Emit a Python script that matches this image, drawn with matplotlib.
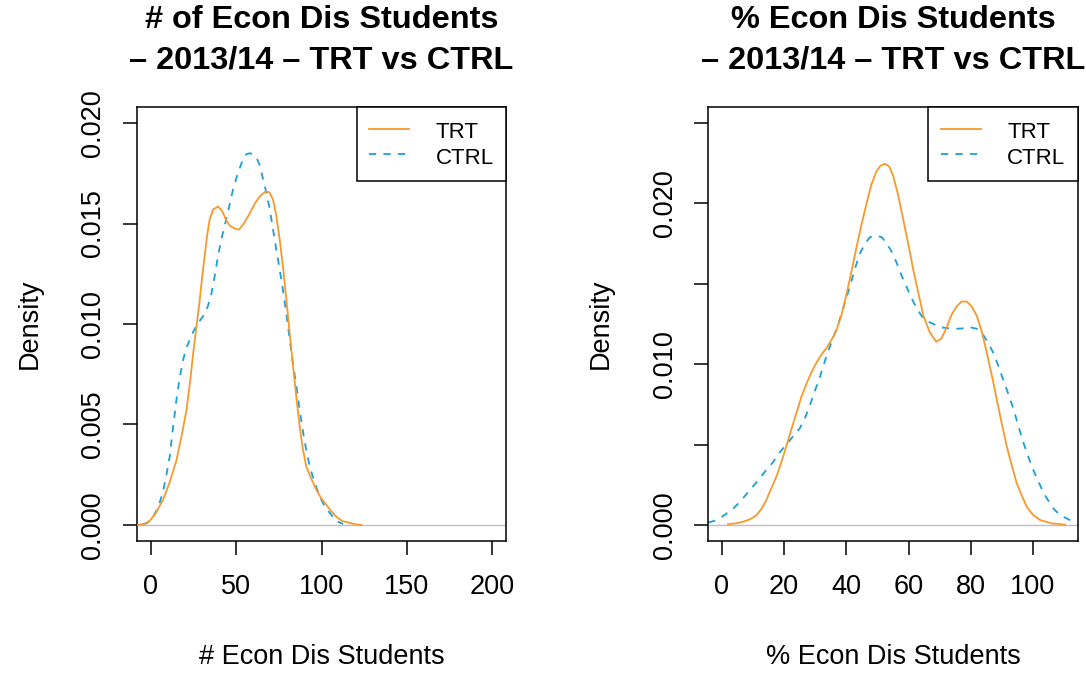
import matplotlib
matplotlib.use("Agg")
import matplotlib.pyplot as plt

plt.rcParams['font.family'] = ['Liberation Sans', 'DejaVu Sans']

# datos: numero de estudiantes
num_trt_x = [-8, -4, -0.6, 3, 7.2, 11, 15, 18, 20.9, 23, 24.8, 26.8, 28.7, 30.2, 31.6, 33, 34.5, 36.5,
             39.4, 42, 44, 46.2, 49, 51.7, 54.5, 57.9, 61, 63.8, 67.3, 69.5, 71.6, 73.5, 75.5, 77.5,
             79.4, 81.4, 83.3, 85.3, 87.2, 89, 91.1, 94, 97, 100, 102.8, 105.5, 108.7, 112, 116.5, 120, 123.3]
num_trt_y = [0.0, 0.00004, 0.0002, 0.0006, 0.00125, 0.0021, 0.0032, 0.0044, 0.0057, 0.0071, 0.0085,
             0.0099, 0.0112, 0.0124, 0.0134, 0.0144, 0.0152, 0.0157, 0.01585, 0.0156, 0.0152, 0.0149,
             0.01475, 0.0147, 0.0150, 0.0155, 0.0160, 0.01635, 0.0166, 0.01655, 0.0162, 0.0154, 0.0142,
             0.0128, 0.0112, 0.0095, 0.0079, 0.0063, 0.0049, 0.0038, 0.0029, 0.0023, 0.00174, 0.0013,
             0.001, 0.0007, 0.0004, 0.0002, 0.0001, 0.00003, 0.0]

num_ctrl_x = [-5, -2, 1.4, 4.5, 7.2, 9.2, 11.1, 13, 15, 16.9, 18.9, 20.8, 22.8, 24.8, 26.7, 29, 31.6,
              33.5, 35.5, 37.5, 39.4, 41.3, 43.3, 45.8, 48.2, 51, 54, 56, 57.9, 59.9, 61.8, 63.8, 65.8,
              67.8, 69.7, 71.6, 73.5, 75.5, 77.4, 79.4, 81.4, 83.3, 85.3, 87.2, 89.2, 91.1, 93.1, 96,
              99, 102, 104.8, 108.5, 112.6]
num_ctrl_y = [0.00002, 0.0001, 0.0004, 0.0009, 0.00166, 0.0025, 0.0034, 0.0048, 0.0062, 0.0073, 0.0082,
              0.0088, 0.0092, 0.0096, 0.0099, 0.0102, 0.0105, 0.0109, 0.0115, 0.0124, 0.0134, 0.0142,
              0.0149, 0.0158, 0.0167, 0.0175, 0.0182, 0.01845, 0.0185, 0.01845, 0.0183, 0.0179, 0.0172,
              0.0165, 0.0157, 0.0147, 0.0137, 0.0127, 0.0117, 0.0105, 0.0092, 0.0080, 0.0069, 0.0057,
              0.0046, 0.0037, 0.0029, 0.0021, 0.0014, 0.0009, 0.0006, 0.0002, 0.00005]

# datos: porcentaje de estudiantes
pct_trt_x = [1.9, 4.5, 6.8, 9, 11.1, 12.7, 14.3, 15.9, 17.5, 19.1, 20.7, 22.4, 24, 25.6, 27.2, 28.8,
             30.4, 32, 33.6, 35.2, 36.8, 38.5, 40.1, 41.7, 43.3, 44.9, 46.5, 48.1, 49.7, 51, 52.4, 53.8,
             55.1, 56.7, 58.3, 59.9, 61.5, 63.2, 64.8, 66.8, 68.9, 70.6, 72.3, 73.9, 75.5, 77.1, 78.7,
             80.3, 82, 83.6, 85.2, 86.8, 88.4, 90, 91.6, 93.2, 94.8, 96.5, 98.1, 100.2, 102.4, 106, 110.4]
pct_trt_y = [0.00004, 0.0001, 0.0002, 0.00035, 0.0006, 0.001, 0.00156, 0.0023, 0.0030, 0.0039, 0.0049,
             0.0060, 0.0070, 0.0080, 0.0088, 0.0095, 0.0101, 0.0106, 0.0110, 0.0115, 0.0121, 0.0131,
             0.0144, 0.0158, 0.0173, 0.0187, 0.0200, 0.0212, 0.0220, 0.02235, 0.02247, 0.0223, 0.0217,
             0.0205, 0.0190, 0.0175, 0.0159, 0.0144, 0.0130, 0.0120, 0.0114, 0.0116, 0.0123, 0.0131,
             0.0136, 0.0139, 0.0139, 0.0136, 0.0130, 0.0120, 0.0107, 0.0093, 0.0078, 0.0063, 0.0049,
             0.0037, 0.0026, 0.0018, 0.0011, 0.0006, 0.0003, 0.0001, 0.00002]

pct_ctrl_x = [-4.4, -2.5, -0.75, 1.4, 3.5, 5.6, 7.8, 10, 12.1, 14.2, 16.4, 18.5, 20.7, 22.8, 25, 26.6,
              28.2, 29.8, 31.5, 33.1, 34.7, 36.3, 37.9, 39.5, 41.1, 42.7, 44.4, 46, 47.6, 49.7, 51.4,
              53, 54.6, 56.2, 57.8, 59.4, 61, 62.6, 64.2, 65.8, 68, 70.1, 72.2, 74.4, 77, 79.8, 82,
              84.1, 85.7, 87.3, 88.9, 90.5, 92.2, 93.8, 95.4, 97, 98.6, 100.2, 101.8, 103.4, 105,
              106.7, 108.3, 109.9, 112, 114.4]
pct_ctrl_y = [0.00015, 0.00025, 0.0004, 0.0007, 0.001, 0.0014, 0.0019, 0.0024, 0.0029, 0.0034, 0.0039,
              0.0045, 0.0050, 0.0055, 0.0060, 0.0066, 0.0074, 0.0083, 0.0092, 0.0102, 0.0111, 0.0119,
              0.0128, 0.0138, 0.0148, 0.0159, 0.0169, 0.0175, 0.0179, 0.0180, 0.0179, 0.0175, 0.0170,
              0.0163, 0.0155, 0.0148, 0.0141, 0.0135, 0.0130, 0.0127, 0.0125, 0.0123, 0.01225, 0.0122,
              0.01222, 0.0123, 0.0122, 0.0118, 0.0113, 0.0107, 0.0099, 0.0090, 0.0081, 0.0072, 0.0061,
              0.0051, 0.0042, 0.0034, 0.0027, 0.0020, 0.0015, 0.0010, 0.0007, 0.0005, 0.0003, 0.00015]

color_trt = '#F7992B'
color_ctrl = '#1B9FD9'

fig = plt.figure(figsize=(10.86, 6.73), dpi=100)

paneles = [
    dict(rect=[0.1262, 0.1961, 0.3398, 0.6449],
         titulo=["# of Econ Dis Students", "\u2013 2013/14 \u2013 TRT vs CTRL"],
         xlabel="# Econ Dis Students",
         trt=(num_trt_x, num_trt_y), ctrl=(num_ctrl_x, num_ctrl_y),
         xlim=(-8, 208), ylim=(-0.0008, 0.0208),
         xticks=[0, 50, 100, 150, 200],
         yticks=[0.0, 0.005, 0.010, 0.015, 0.020],
         ylabels=["0.000", "0.005", "0.010", "0.015", "0.020"]),
    dict(rect=[0.6522, 0.1961, 0.3401, 0.6449],
         titulo=["% Econ Dis Students", "\u2013 2013/14 \u2013 TRT vs CTRL"],
         xlabel="% Econ Dis Students",
         trt=(pct_trt_x, pct_trt_y), ctrl=(pct_ctrl_x, pct_ctrl_y),
         xlim=(-4.4, 114.4), ylim=(-0.001, 0.026),
         xticks=[0, 20, 40, 60, 80, 100],
         yticks=[0.0, 0.005, 0.010, 0.015, 0.020, 0.025],
         ylabels=["0.000", "", "0.010", "", "0.020", ""]),
]

for p in paneles:
    ax = fig.add_axes(p['rect'])
    ax.axhline(0, color='#BEBEBE', lw=1.0, zorder=1)
    ax.plot(p['trt'][0], p['trt'][1], color=color_trt, lw=1.3, label='TRT', zorder=3)
    ax.plot(p['ctrl'][0], p['ctrl'][1], color=color_ctrl, lw=1.3, dashes=(4, 4), label='CTRL', zorder=2)
    ax.set_xlim(p['xlim'])
    ax.set_ylim(p['ylim'])

    ax.set_xticks(p['xticks'])
    ax.set_yticks(p['yticks'])
    ax.set_yticklabels(p['ylabels'], rotation=90, va='center')
    ax.tick_params(axis='both', direction='out', length=10, width=1.1, labelsize=19.5)
    ax.tick_params(axis='x', pad=14)
    ax.tick_params(axis='y', pad=12)
    for s in ax.spines.values():
        s.set_linewidth(1.1)

    ax.set_xlabel(p['xlabel'], fontsize=19.5)
    ax.xaxis.set_label_coords(0.5, -0.267)
    ax.xaxis.label.set_va('center')
    ax.set_ylabel("Density", fontsize=19.5)
    ax.yaxis.set_label_coords(-0.29, 0.5)
    ax.yaxis.label.set_va('center')

    # titulo en dos lineas
    ax.text(0.5, 1.2005, p['titulo'][0], transform=ax.transAxes, ha='center', va='center',
            fontsize=23.4, fontweight='bold')
    ax.text(0.5, 1.108, p['titulo'][1], transform=ax.transAxes, ha='center', va='center',
            fontsize=23.4, fontweight='bold')

    leg = ax.legend(loc='upper right', fontsize=16, frameon=True, fancybox=False,
                    borderaxespad=0, borderpad=0.55, handlelength=1.8, handletextpad=1.2,
                    handleheight=1.25, labelspacing=0.05, framealpha=1)
    leg.get_frame().set_edgecolor('black')
    leg.get_frame().set_linewidth(1.1)

fig.savefig("out.png", dpi=100)
